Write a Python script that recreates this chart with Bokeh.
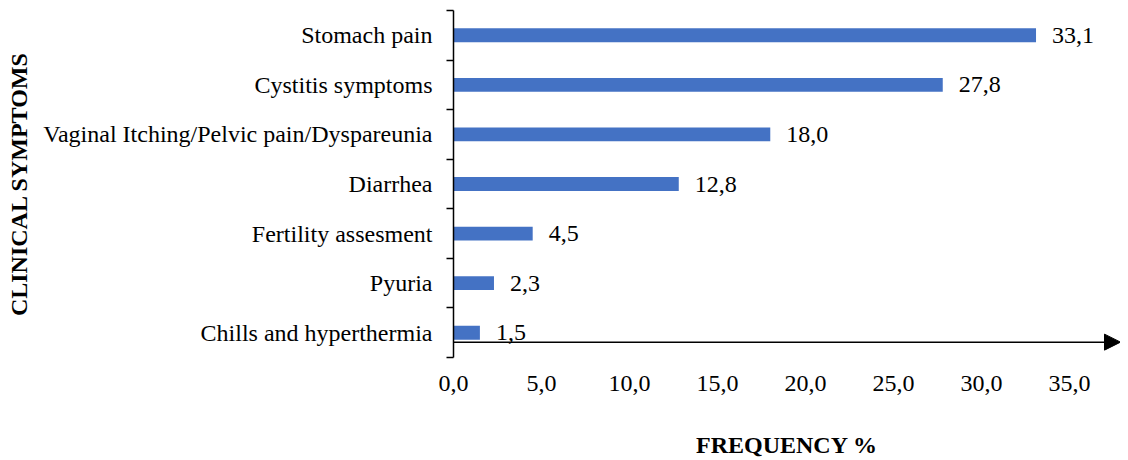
from bokeh.plotting import figure
from bokeh.models import (ColumnDataSource, Range1d, FixedTicker, Arrow, NormalHead)
from bokeh.core.properties import value
from bokeh.embed import file_html
from bokeh.resources import INLINE

# ---- data ----
symptoms = ["Chills and hyperthermia", "Pyuria", "Fertility assesment", "Diarrhea",
            "Vaginal Itching/Pelvic pain/Dyspareunia", "Cystitis symptoms", "Stomach pain"]
frequency = [1.5, 2.3, 4.5, 12.8, 18.0, 27.8, 33.1]
x_ticks = [0, 5, 10, 15, 20, 25, 30, 35]
x_tick_labels = ["0,0", "5,0", "10,0", "15,0", "20,0", "25,0", "30,0", "35,0"]
y_title = "CLINICAL SYMPTOMS"
x_title = "FREQUENCY %"

FONT = "Liberation Serif"
BLUE = "#4472C4"

centers = [i + 0.5 for i in range(len(symptoms))]
bounds = [i for i in range(len(symptoms) + 1)]
value_labels = [f"{v:.1f}".replace(".", ",") for v in frequency]

src = ColumnDataSource(dict(y=centers, v=frequency, lab=value_labels))

X_END = 37.9
p = figure(width=1120, height=460, output_backend="svg", toolbar_location=None,
           x_range=Range1d(0, X_END), y_range=Range1d(0, len(symptoms)),
           min_border_left=453, min_border_right=0, min_border_top=10, min_border_bottom=103)
p.outline_line_color = None
p.xgrid.visible = False
p.ygrid.visible = False
p.background_fill_color = "white"

p.hbar(y="y", right="v", left=0, height=0.28, source=src, fill_color=BLUE, line_color=None)
p.text(x="v", y="y", text="lab", source=src, x_offset=16, text_baseline="middle",
       text_align="left", text_font=value(FONT), text_font_size="24px", text_color="black")

# horizontal arrow axis
p.add_layout(Arrow(x_start=0, y_start=0.31, x_end=X_END, y_end=0.31, line_width=1.5,
                   line_color="black",
                   end=NormalHead(size=16, fill_color="black", line_color="black")))

# left axis
ya = p.yaxis[0]
ya.ticker = FixedTicker(ticks=centers, minor_ticks=bounds)
ya.major_label_overrides = {c: s for c, s in zip(centers, symptoms)}
ya.major_tick_line_color = None
ya.major_tick_out = 0
ya.major_tick_in = 0
ya.minor_tick_out = 7
ya.minor_tick_in = 0
ya.minor_tick_line_color = "black"
ya.minor_tick_line_width = 1.5
ya.axis_line_color = "black"
ya.axis_line_width = 1.5
ya.major_label_standoff = 14
ya.major_label_text_font = FONT
ya.major_label_text_font_size = "24px"
ya.major_label_text_color = "black"
ya.axis_label = y_title
ya.axis_label_text_font = FONT
ya.axis_label_text_font_style = "bold"
ya.axis_label_text_font_size = "24px"
ya.axis_label_text_color = "black"
ya.axis_label_standoff = 8

# bottom axis
xa = p.xaxis[0]
xa.ticker = FixedTicker(ticks=x_ticks)
xa.major_label_overrides = {t: s for t, s in zip(x_ticks, x_tick_labels)}
xa.axis_line_color = None
xa.major_tick_line_color = None
xa.minor_tick_line_color = None
xa.major_tick_out = 0
xa.major_tick_in = 0
xa.major_label_standoff = 18
xa.major_label_text_font = FONT
xa.major_label_text_font_size = "24px"
xa.major_label_text_color = "black"
xa.axis_label = x_title
xa.axis_label_text_font = FONT
xa.axis_label_text_font_style = "bold"
xa.axis_label_text_font_size = "24px"
xa.axis_label_text_color = "black"
xa.axis_label_standoff = 38

open("out.html", "w").write(file_html(p, INLINE))
